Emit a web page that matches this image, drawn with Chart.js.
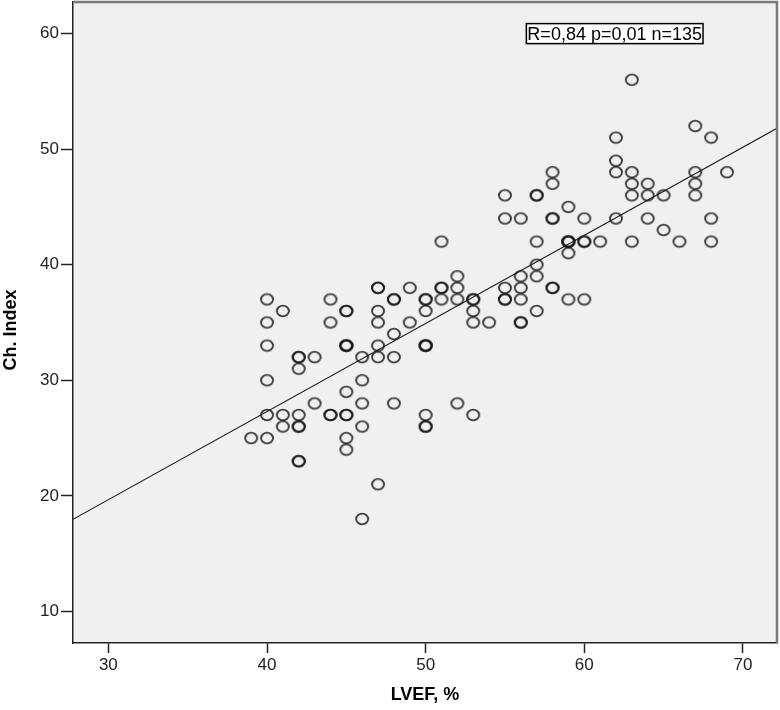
<!DOCTYPE html>
<html><head><meta charset="utf-8">
<script src="https://cdn.jsdelivr.net/npm/chart.js@4"></script>
<style>html,body{margin:0;padding:0;background:#fff}#wrap{width:780px;height:710px}</style>
</head><body><div id="wrap"><canvas id="c" width="780" height="710"></canvas></div>
<script>
// LVEF (%) values for each patient
const lvef = [
  39,
  40,40,40,40,40,40,
  41,41,41,
  42,42,42,42,42,42,42,42,
  43,43,
  44,44,44,44,
  45,45,45,45,45,45,45,45,45,45,
  46,46,46,46,46,
  47,47,47,47,47,47,47,
  48,48,48,48,48,
  49,49,
  50,50,50,50,50,50,50,50,50,
  51,51,51,51,
  52,52,52,52,
  53,53,53,53,53,
  54,
  55,55,55,55,55,
  56,56,56,56,56,56,
  57,57,57,57,57,57,
  58,58,58,58,58,58,
  59,59,59,59,59,59,
  60,60,60,60,
  61,
  62,62,62,62,
  63,63,63,63,63,
  64,64,64,
  65,65,
  66,
  67,67,67,67,
  68,68,68,
  69
];
// Ch. Index values (same order)
const chIndex = [
  25,
  37,35,33,30,27,25,
  36,27,26,
  32,32,31,27,26,26,23,23,
  32,28,
  37,35,27,27,
  36,36,33,33,33,29,27,27,25,24,
  32,30,28,26,18,
  38,38,36,35,33,32,21,
  37,37,34,32,28,
  38,35,
  37,37,36,33,33,33,27,26,26,
  42,38,38,37,
  39,38,37,28,
  37,37,36,35,27,
  35,
  46,44,38,37,37,
  44,39,38,37,35,35,
  46,46,42,40,39,36,
  48,47,44,44,38,38,
  45,42,42,42,41,37,
  44,42,42,37,
  42,
  51,49,48,44,
  56,48,47,46,42,
  47,46,44,
  46,43,
  42,
  52,48,47,46,
  51,44,42,
  48
];
// fit line endpoints
const fitLvef = [27.77, 72.15];
const fitCh = [17.97, 51.8];
const xTicks = [30, 40, 50, 60, 70];
const yTicks = [10, 20, 30, 40, 50, 60];
const xRange = [27.77, 72.15];
const yRange = [7.27, 62.73];
const xTitle = 'LVEF, %';
const yTitle = 'Ch. Index';
const statsText = 'R=0,84 p=0,01 n=135';
const statsPos = [56.35, 60.86];

const points = lvef.map((v, i) => ({x: v, y: chIndex[i]}));
const fitPts = fitLvef.map((v, i) => ({x: v, y: fitCh[i]}));

const FONT = '"Liberation Sans", Arial, sans-serif';

// open elliptical marker
const marker = document.createElement('canvas');
marker.width = 18; marker.height = 18;
(function () {
  const m = marker.getContext('2d');
  m.strokeStyle = 'rgba(20,20,20,0.82)';
  m.lineWidth = 1.9;
  m.beginPath();
  m.ellipse(9, 9, 6.0, 5.4, 0, 0, Math.PI * 2);
  m.stroke();
})();

const decor = {
  id: 'decor',
  beforeDraw(chart) {
    const {ctx, chartArea: a} = chart;
    ctx.save();
    ctx.fillStyle = '#ffffff';
    ctx.fillRect(0, 0, chart.width, chart.height);
    ctx.fillStyle = '#f0f0f0';
    ctx.fillRect(a.left, a.top, a.right - a.left, a.bottom - a.top);
    ctx.restore();
  },
  afterDraw(chart) {
    const {ctx, chartArea: a, scales} = chart;
    ctx.save();
    ctx.strokeStyle = '#7a7a7a';
    ctx.lineWidth = 2.5;
    ctx.beginPath();
    ctx.moveTo(a.left, a.top);
    ctx.lineTo(a.right, a.top);
    ctx.lineTo(a.right, a.bottom);
    ctx.stroke();
    ctx.fillStyle = '#000';
    ctx.font = 'bold 18px ' + FONT;
    ctx.textAlign = 'center';
    ctx.textBaseline = 'middle';
    ctx.fillText(xTitle, (a.left + a.right) / 2, 695);
    ctx.translate(11, 330);
    ctx.rotate(-Math.PI / 2);
    ctx.fillText(yTitle, 0, 0);
    ctx.restore();
    ctx.save();
    ctx.font = '18px ' + FONT;
    const w = ctx.measureText(statsText).width;
    const bx = scales.x.getPixelForValue(statsPos[0]);
    const by = scales.y.getPixelForValue(statsPos[1]);
    ctx.fillStyle = '#fff';
    ctx.fillRect(bx, by, w + 2, 20);
    ctx.strokeStyle = '#000';
    ctx.lineWidth = 1.5;
    ctx.strokeRect(bx, by, w + 2, 20);
    ctx.fillStyle = '#000';
    ctx.textBaseline = 'middle';
    ctx.textAlign = 'left';
    ctx.fillText(statsText, bx + 1, by + 11);
    ctx.restore();
  }
};

new Chart(document.getElementById('c'), {
  type: 'scatter',
  data: {
    datasets: [
      {
        data: points,
        pointStyle: marker,
        pointRadius: 6,
        order: 1
      },
      {
        type: 'line',
        data: fitPts,
        borderColor: '#222',
        borderWidth: 1.2,
        pointRadius: 0,
        fill: false,
        order: 2
      }
    ]
  },
  options: {
    responsive: false,
    animation: false,
    devicePixelRatio: 1,
    events: [],
    layout: {autoPadding: false, padding: {left: 0, top: 2, right: 3, bottom: 0}},
    plugins: {legend: {display: false}, tooltip: {enabled: false}},
    scales: {
      x: {
        type: 'linear',
        min: xRange[0], max: xRange[1],
        afterBuildTicks: s => { s.ticks = xTicks.map(v => ({value: v})); },
        afterFit: s => { s.height = 67; s.paddingLeft = 0; s.paddingRight = 0; },
        ticks: {color: '#222', font: {family: FONT, size: 17}, padding: 2, autoSkip: false, maxRotation: 0},
        grid: {drawOnChartArea: false, drawTicks: true, tickLength: 10, tickColor: '#222', tickWidth: 1.5},
        border: {display: true, color: '#222', width: 1.5}
      },
      y: {
        type: 'linear',
        min: yRange[0], max: yRange[1],
        afterBuildTicks: s => { s.ticks = yTicks.map(v => ({value: v})); },
        afterFit: s => { s.width = 73; s.paddingTop = 0; s.paddingBottom = 0; },
        ticks: {color: '#222', font: {family: FONT, size: 17}, padding: 2, autoSkip: false},
        grid: {drawOnChartArea: false, drawTicks: true, tickLength: 12, tickColor: '#222', tickWidth: 1.5},
        border: {display: true, color: '#222', width: 1.5}
      }
    }
  },
  plugins: [decor]
});
</script>
</body></html>
